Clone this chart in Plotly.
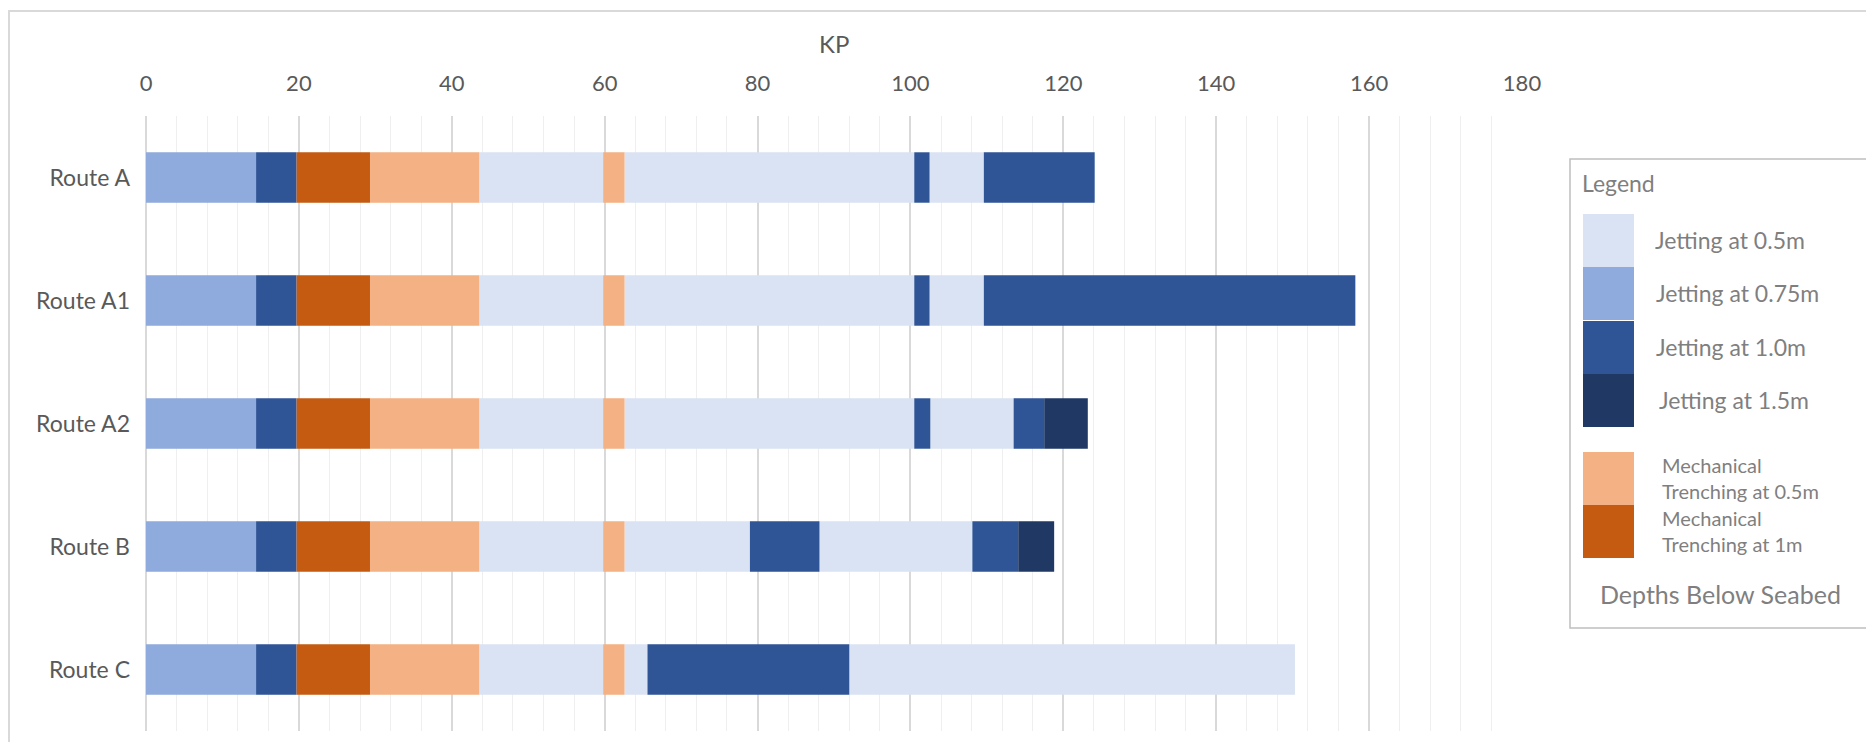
import plotly.graph_objects as go

# routes, top to bottom
routes = ["Route A", "Route A1", "Route A2", "Route B", "Route C"]

# burial classes (legend order) and their colours
depth_classes = ["J05", "J075", "J10", "J15", "M05", "M1"]
depth_labels = ["Jetting at 0.5m", "Jetting at 0.75m", "Jetting at 1.0m", "Jetting at 1.5m",
                "Mechanical<br>Trenching at 0.5m", "Mechanical<br>Trenching at 1m"]
depth_colors = ["#DAE3F3", "#8FAADC", "#2F5597", "#1F3864", "#F4B183", "#C55A11"]

# KP at the end of each segment, and the class of that segment
route_a_end = [14.4, 19.7, 29.3, 43.6, 59.8, 62.6, 100.5, 102.5, 109.6, 124.1]
route_a_cls = ["J075", "J10", "M1", "M05", "J05", "M05", "J05", "J10", "J05", "J10"]

route_a1_end = [14.4, 19.7, 29.3, 43.6, 59.8, 62.6, 100.5, 102.5, 109.6, 158.2]
route_a1_cls = ["J075", "J10", "M1", "M05", "J05", "M05", "J05", "J10", "J05", "J10"]

route_a2_end = [14.4, 19.7, 29.3, 43.6, 59.8, 62.6, 100.5, 102.6, 113.5, 117.5, 123.2]
route_a2_cls = ["J075", "J10", "M1", "M05", "J05", "M05", "J05", "J10", "J05", "J10", "J15"]

route_b_end = [14.4, 19.7, 29.3, 43.6, 59.8, 62.6, 79.0, 88.1, 108.1, 114.1, 118.8]
route_b_cls = ["J075", "J10", "M1", "M05", "J05", "M05", "J05", "J10", "J05", "J10", "J15"]

route_c_end = [14.4, 19.7, 29.3, 43.6, 59.8, 62.6, 65.6, 92.0, 150.3]
route_c_cls = ["J075", "J10", "M1", "M05", "J05", "M05", "J05", "J10", "J05"]

route_data = {
    "Route A": (route_a_end, route_a_cls),
    "Route A1": (route_a1_end, route_a1_cls),
    "Route A2": (route_a2_end, route_a2_cls),
    "Route B": (route_b_end, route_b_cls),
    "Route C": (route_c_end, route_c_cls),
}

# page pixels (the html body has an 8px margin)
OFF = 8
W, H = 1858, 734
PL, PR, PT, PB = 146, 1522, 116, 731


def px(x):
    return (x - PL) / (PR - PL)


def py(y):
    return (PB - y) / (PB - PT)


FONT = "Lato, 'Open Sans', sans-serif"
LEG_GRAY = "#7f7f7f"
AX_GRAY = "#595959"

fig = go.Figure()

# one trace per class, segments placed with base = start KP
for cls, color in zip(depth_classes, depth_colors):
    ys, bases, lens = [], [], []
    for r in routes:
        ends, classes = route_data[r]
        start = 0
        for e, c in zip(ends, classes):
            if c == cls:
                ys.append(r)
                bases.append(start)
                lens.append(e - start)
            start = e
    fig.add_trace(go.Bar(
        y=ys, x=lens, base=bases, orientation="h",
        marker=dict(color=color, line=dict(width=0)),
        width=0.41, name=cls, showlegend=False,
    ))

shapes = []
annotations = []

# outer chart border
shapes.append(dict(type="rect", xref="paper", yref="paper",
                   x0=px(9), x1=px(1900), y0=py(780), y1=py(11),
                   line=dict(color="#d9d9d9", width=2), layer="below"))

# legend box
shapes.append(dict(type="rect", xref="paper", yref="paper",
                   x0=px(1570), x1=px(1869), y0=py(628), y1=py(159),
                   line=dict(color="#bfbfbf", width=1.5), fillcolor="white"))

annotations.append(dict(text="Legend", xref="paper", yref="paper", x=px(1580), y=py(183),
                        xanchor="left", yanchor="middle", showarrow=False,
                        font=dict(family=FONT, size=23, color=LEG_GRAY)))

sw_top = [214, 267, 321, 374, 452, 505]
lab_x = [1653, 1654, 1654, 1657, 1660, 1660]
for i, (lab, color) in enumerate(zip(depth_labels, depth_colors)):
    y0 = sw_top[i]
    shapes.append(dict(type="rect", xref="paper", yref="paper",
                       x0=px(1583), x1=px(1634), y0=py(y0 + 53), y1=py(y0),
                       line=dict(width=0), fillcolor=color))
    small = "<br>" in lab
    annotations.append(dict(text=lab, xref="paper", yref="paper",
                            x=px(lab_x[i]), y=py(y0 + 26),
                            xanchor="left", yanchor="middle", align="left", showarrow=False,
                            font=dict(family=FONT, size=20 if small else 23, color=LEG_GRAY)))

annotations.append(dict(text="Depths Below Seabed", xref="paper", yref="paper",
                        x=px(1720), y=py(594), xanchor="center", yanchor="middle",
                        showarrow=False, font=dict(family=FONT, size=25, color=LEG_GRAY)))

# axis title
annotations.append(dict(text="KP", xref="paper", yref="paper", x=0.5, y=py(44),
                        xanchor="center", yanchor="middle", showarrow=False,
                        font=dict(family=FONT, size=24, color=AX_GRAY)))

fig.update_layout(
    width=W, height=H,
    margin=dict(l=PL - OFF, r=OFF + W - PR, t=PT - OFF, b=OFF + H - PB),
    barmode="overlay",
    plot_bgcolor="white", paper_bgcolor="white",
    shapes=shapes, annotations=annotations,
    showlegend=False,
)
fig.update_xaxes(
    side="top", range=[0, 180], tick0=0, dtick=20,
    showgrid=True, gridcolor="#d9d9d9", gridwidth=1.5,
    minor=dict(dtick=4, showgrid=True, gridcolor="#efefef", gridwidth=1),
    zeroline=True, zerolinecolor="#d9d9d9", zerolinewidth=1.5,
    showline=False, ticks="", ticklabelstandoff=20,
    tickfont=dict(family=FONT, size=22, color=AX_GRAY),
)
fig.update_yaxes(
    categoryorder="array", categoryarray=routes, autorange="reversed",
    showgrid=False, zeroline=False, showline=False, ticks="",
    ticklabelstandoff=15,
    tickfont=dict(family=FONT, size=23, color=AX_GRAY),
)

fig.write_html("out.html")
